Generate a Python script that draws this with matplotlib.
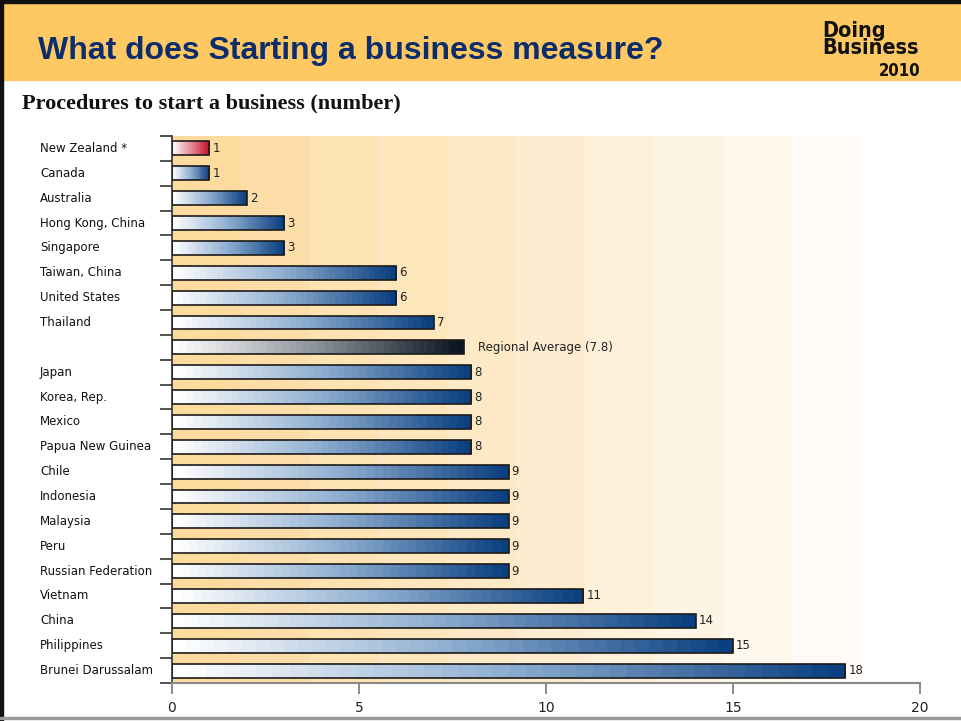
import numpy as np
import matplotlib.pyplot as plt
from matplotlib.patches import Rectangle
from matplotlib.colors import LinearSegmentedColormap
import matplotlib.transforms as mtransforms

# procedures to start a business, top to bottom
countries = ["New Zealand *", "Canada", "Australia", "Hong Kong, China",
             "Singapore", "Taiwan, China", "United States", "Thailand",
             "Japan", "Korea, Rep.", "Mexico", "Papua New Guinea", "Chile",
             "Indonesia", "Malaysia", "Peru", "Russian Federation",
             "Vietnam", "China", "Philippines", "Brunei Darussalam"]
procedures = [1, 1, 2, 3, 3, 6, 6, 7, 8, 8, 8, 8, 9, 9, 9, 9, 9, 11, 14, 15, 18]
avg_value = 7.8
avg_row = 8          # regional average sits between Thailand and Japan
highlight = "New Zealand *"
x_ticks = [0, 5, 10, 15, 20]

W, H = 961, 721
fig = plt.figure(figsize=(W / 100, H / 100), dpi=100)

# slide frame and header band
fig.patches.append(Rectangle((4 / W, 1 - 80 / H), 1, 76 / H, transform=fig.transFigure,
                             color="#FEC862", zorder=0))
fig.patches.append(Rectangle((0, 1 - 3 / H), 1, 3 / H, transform=fig.transFigure,
                             color="#111111", zorder=1))
fig.patches.append(Rectangle((0, 0), 3 / W, 1, transform=fig.transFigure,
                             color="#111111", zorder=1))
fig.patches.append(Rectangle((0, 2 / H), 1, 2 / H, transform=fig.transFigure,
                             color="#999999", zorder=1))

fig.text(38 / W, 1 - 59 / H, "What does Starting a business measure?",
         fontsize=23, fontweight="bold", color="#0C2C6C",
         family="Liberation Sans", va="baseline")

# logo
logo = dict(fontweight="bold", family="DejaVu Sans", fontstretch="condensed",
            color="#111111")
fig.text(822 / W, 1 - 58 / H, "Doing\nBusiness", fontsize=15.5, ha="left",
         va="bottom", multialignment="left", linespacing=0.82, **logo)
fig.text(920 / W, 1 - 76 / H, "2010", fontsize=12, ha="right", va="baseline", **logo)

fig.text(22 / W, 1 - 108 / H, "Procedures to start a business (number)",
         fontsize=16, fontweight="bold", family="Liberation Serif",
         color="#111111", va="baseline")

ax = fig.add_axes([172 / W, 1 - 683 / H, (920 - 172) / W, (683 - 136) / H])

# rows including the regional average
values = procedures[:avg_row] + [avg_value] + procedures[avg_row:]
labels = countries[:avg_row] + [""] + countries[avg_row:]
n = len(values)
y = np.arange(n)

# banded orange background fading to white
bg = LinearSegmentedColormap.from_list("bg", ["#FDDB9F", "#FEEBCB", "#FFFCF7"])
bands = bg(np.linspace(0, 1, 10))[None, :, :3]
ax.imshow(bands, extent=(0, 18.4, n - 0.5, -0.5), aspect="auto",
          interpolation="nearest", zorder=0)

blue = LinearSegmentedColormap.from_list("blue", ["#FFFFFF", "#8EAED0", "#0A3F80"])
red = LinearSegmentedColormap.from_list("red", ["#FFFFFF", "#E58A96", "#C8102E"])
dark = LinearSegmentedColormap.from_list("dark", ["#FFFFFF", "#8A9098", "#0B1420"])

bar_h = 0.56
bars = ax.barh(y, values, height=bar_h, facecolor="none", edgecolor="#1A1A1A",
               linewidth=1.2, zorder=3)
steps = np.linspace(0, 1, 40)[None, :]
for i, (bar, v, lab) in enumerate(zip(bars, values, labels)):
    cmap = blue
    if i == avg_row:
        cmap = dark
    elif lab == highlight:
        cmap = red
    im = ax.imshow(steps, cmap=cmap, extent=(0, v, i + bar_h / 2, i - bar_h / 2),
                   aspect="auto", interpolation="nearest", zorder=2)
    im.set_clip_path(bar)
    if i == avg_row:
        ax.text(v + 0.38, i, f"Regional Average ({v:.1f})", va="center",
                fontsize=8.5, color="#222222")
    else:
        ax.text(v + 0.08, i, f"{v:g}", va="center", fontsize=8.5, color="#222222")

ax.set_ylim(n - 0.5, -0.5)
ax.set_xlim(0, 20)

# country names left aligned at a fixed page position
trans = mtransforms.blended_transform_factory(fig.transFigure, ax.transData)
for i, lab in enumerate(labels):
    if lab:
        ax.text(40 / W, i, lab, transform=trans, va="center", ha="left",
                fontsize=8.5, color="#111111")

ax.set_yticks(np.arange(n + 1) - 0.5)
ax.set_yticklabels([])
ax.tick_params(axis="y", length=9, width=1.2, color="#333333")
ax.set_xticks(x_ticks)
ax.set_xticklabels([str(t) for t in x_ticks], fontsize=10, color="#222222")
ax.tick_params(axis="x", length=8, width=1.2, color="#777777", pad=5)

for side in ["top", "right"]:
    ax.spines[side].set_visible(False)
ax.spines["left"].set_color("#333333")
ax.spines["left"].set_linewidth(1.2)
ax.spines["bottom"].set_color("#888888")
ax.spines["bottom"].set_linewidth(1.5)
ax.set_facecolor("white")

fig.savefig("out.png", dpi=100)
